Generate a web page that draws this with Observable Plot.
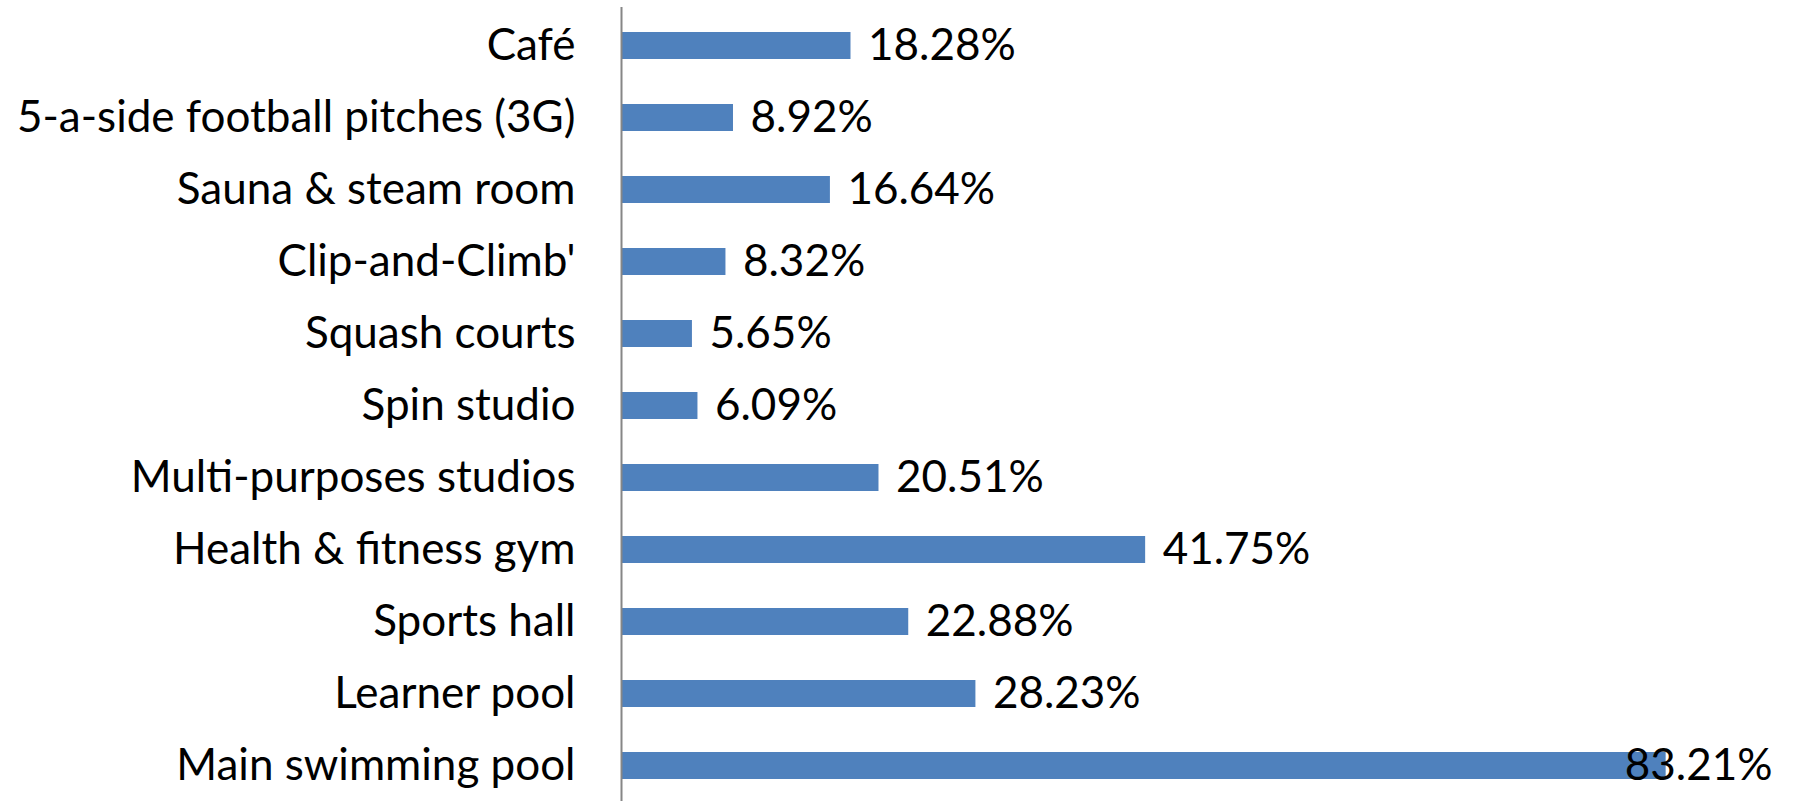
<!DOCTYPE html>
<html>
<head>
<meta charset="utf-8">
<script src="https://cdn.jsdelivr.net/npm/d3@7"></script>
<script src="https://cdn.jsdelivr.net/npm/@observablehq/plot@0.6"></script>
<style>
  html, body { margin: 0; padding: 0; background: #fff; }
  #chart svg { display: block; }
</style>
</head>
<body>
<div id="chart"></div>
<script>
const categories = [
  "Café",
  "5-a-side football pitches (3G)",
  "Sauna & steam room",
  "Clip-and-Climb'",
  "Squash courts",
  "Spin studio",
  "Multi-purposes studios",
  "Health & fitness gym",
  "Sports hall",
  "Learner pool",
  "Main swimming pool"
];
const values = [18.28, 8.92, 16.64, 8.32, 5.65, 6.09, 20.51, 41.75, 22.88, 28.23, 83.21];
const valueLabels = ["18.28%", "8.92%", "16.64%", "8.32%", "5.65%", "6.09%", "20.51%", "41.75%", "22.88%", "28.23%", "83.21%"];

const data = categories.map((c, i) => ({c, v: values[i], label: valueLabels[i]}));
const FONT = "Lato, 'Open Sans', sans-serif";

const chart = Plot.plot({
  width: 1793,
  height: 801,
  marginLeft: 621,
  marginRight: 17,
  marginTop: 7,
  marginBottom: -4,
  style: {fontFamily: FONT, fontSize: "44px", color: "#000", background: "#fff", overflow: "hidden"},
  x: {domain: [0, 92], axis: null},
  y: {domain: categories, paddingInner: 0.62, paddingOuter: 0.31, label: null, axis: null},
  marks: [
    Plot.barX(data, {x: "v", y: "c", fill: "#4F81BD"}),
    Plot.ruleX([0], {stroke: "#868686", strokeWidth: 2}),
    Plot.axisY({tickSize: 0, tickPadding: 46, label: null, fontSize: 44, fill: "#000"}),
    Plot.text(data.filter(d => d.v <= 75), {x: "v", y: "c", text: "label", textAnchor: "start", dx: 17, fontSize: 44, fill: "#000"}),
    Plot.text(data.filter(d => d.v > 75), {y: "c", frameAnchor: "right", text: "label", textAnchor: "end", dx: -4, fontSize: 44, fill: "#000"})
  ]
});
document.getElementById("chart").appendChild(chart);
</script>
</body>
</html>
